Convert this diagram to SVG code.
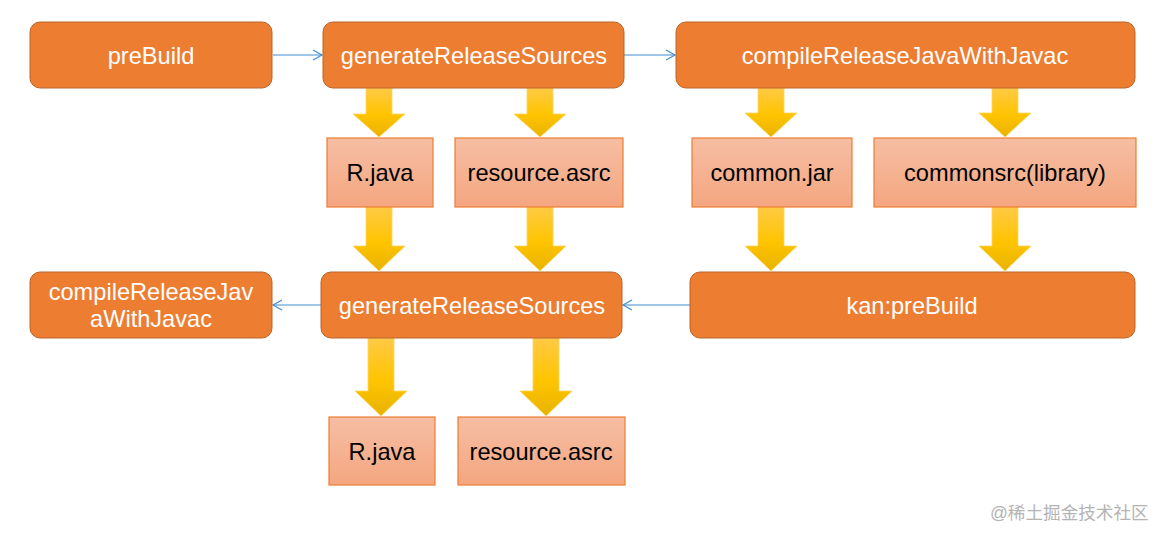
<svg xmlns="http://www.w3.org/2000/svg" width="1167" height="540" viewBox="0 0 1167 540">
<style>
.main{fill:#ED7D31;stroke:#B9652A;stroke-width:1}
.sub{fill:url(#subg);stroke:#ED7D31;stroke-width:1.2}
.tw{font-family:"Liberation Sans",Arial,sans-serif;font-size:23.6px;fill:#FFFFFF;text-anchor:middle}
.tb{font-family:"Liberation Sans",Arial,sans-serif;font-size:23.6px;fill:#000000;text-anchor:middle}
.blk{fill:url(#arrg);stroke:#FFD75E;stroke-width:0.8}
.con{stroke:#3F8ED3;stroke-width:1.2;fill:none}
.wm{font-family:"Liberation Sans","Noto Sans CJK SC",sans-serif;font-size:17.6px;fill:#B4B4B4}
</style>
<defs>
<linearGradient id="subg" x1="0" y1="0" x2="0" y2="1">
<stop offset="0" stop-color="#F6BEA3"/>
<stop offset="1" stop-color="#F4A680"/>
</linearGradient>
<linearGradient id="arrg" x1="0" y1="0" x2="0" y2="1">
<stop offset="0" stop-color="#FFCA45"/>
<stop offset="0.55" stop-color="#FFC400"/>
<stop offset="1" stop-color="#E8B200"/>
</linearGradient>
<marker id="ah" markerWidth="12" markerHeight="12" refX="10" refY="6" orient="auto" markerUnits="userSpaceOnUse">
<path d="M1,1 L10,6 L1,11" fill="none" stroke="#3F8ED3" stroke-width="1.2"/>
</marker>
</defs>
<g id="connectors">
<line class="con" x1="273" y1="55" x2="322" y2="55" marker-end="url(#ah)"/>
<line class="con" x1="624" y1="55" x2="675" y2="55" marker-end="url(#ah)"/>
<line class="con" x1="690" y1="305" x2="623" y2="305" marker-end="url(#ah)"/>
<line class="con" x1="321" y1="305" x2="273" y2="305" marker-end="url(#ah)"/>
<path class="blk" d="M366,88 H392 V114 H405 L379,137 L353,114 H366 Z"/>
<path class="blk" d="M527,88 H553 V114 H566 L540,137 L514,114 H527 Z"/>
<path class="blk" d="M758,88 H784 V113 H797 L771,137 L745,113 H758 Z"/>
<path class="blk" d="M992,88 H1018 V113 H1031 L1005,137 L979,113 H992 Z"/>
<path class="blk" d="M366,207 H392 V246 H405 L379,271 L353,246 H366 Z"/>
<path class="blk" d="M527,207 H553 V246 H566 L540,271 L514,246 H527 Z"/>
<path class="blk" d="M758,207 H784 V246 H797 L771,271 L745,246 H758 Z"/>
<path class="blk" d="M992,207 H1018 V246 H1031 L1005,271 L979,246 H992 Z"/>
<path class="blk" d="M368,338 H394 V391 H407 L381,416 L355,391 H368 Z"/>
<path class="blk" d="M533,338 H559 V391 H572 L546,416 L520,391 H533 Z"/>
</g>
<g id="preBuild"><rect class="main" x="30" y="22" width="242" height="66" rx="10"/><text class="tw" x="151" y="64">preBuild</text></g>
<g id="generateReleaseSources1"><rect class="main" x="323" y="22" width="301" height="66" rx="10"/><text class="tw" x="474" y="64">generateReleaseSources</text></g>
<g id="compileReleaseJavaWithJavac1"><rect class="main" x="676" y="22" width="459" height="66" rx="10"/><text class="tw" x="905" y="64">compileReleaseJavaWithJavac</text></g>
<g id="rjava1"><rect class="sub" x="327" y="138" width="106" height="69"/><text class="tb" x="380" y="181">R.java</text></g>
<g id="resource1"><rect class="sub" x="455" y="138" width="168" height="69"/><text class="tb" x="539" y="181">resource.asrc</text></g>
<g id="commonjar"><rect class="sub" x="692" y="138" width="160" height="69"/><text class="tb" x="772" y="181">common.jar</text></g>
<g id="commonsrc"><rect class="sub" x="874" y="138" width="262" height="69"/><text class="tb" x="1005" y="181">commonsrc(library)</text></g>
<g id="compileReleaseJavaWithJavac2"><rect class="main" x="30" y="272" width="242" height="66" rx="10"/><text class="tw" x="151" y="300">compileReleaseJav</text><text class="tw" x="151" y="327">aWithJavac</text></g>
<g id="generateReleaseSources2"><rect class="main" x="321" y="272" width="301" height="66" rx="10"/><text class="tw" x="472" y="314">generateReleaseSources</text></g>
<g id="kanPreBuild"><rect class="main" x="690" y="272" width="445" height="66" rx="10"/><text class="tw" x="912" y="314">kan:preBuild</text></g>
<g id="rjava2"><rect class="sub" x="329" y="417" width="106" height="68"/><text class="tb" x="382" y="460">R.java</text></g>
<g id="resource2"><rect class="sub" x="458" y="417" width="167" height="68"/><text class="tb" x="541" y="460">resource.asrc</text></g>
<text class="wm" x="990" y="519">@稀土掘金技术社区</text>
</svg>
